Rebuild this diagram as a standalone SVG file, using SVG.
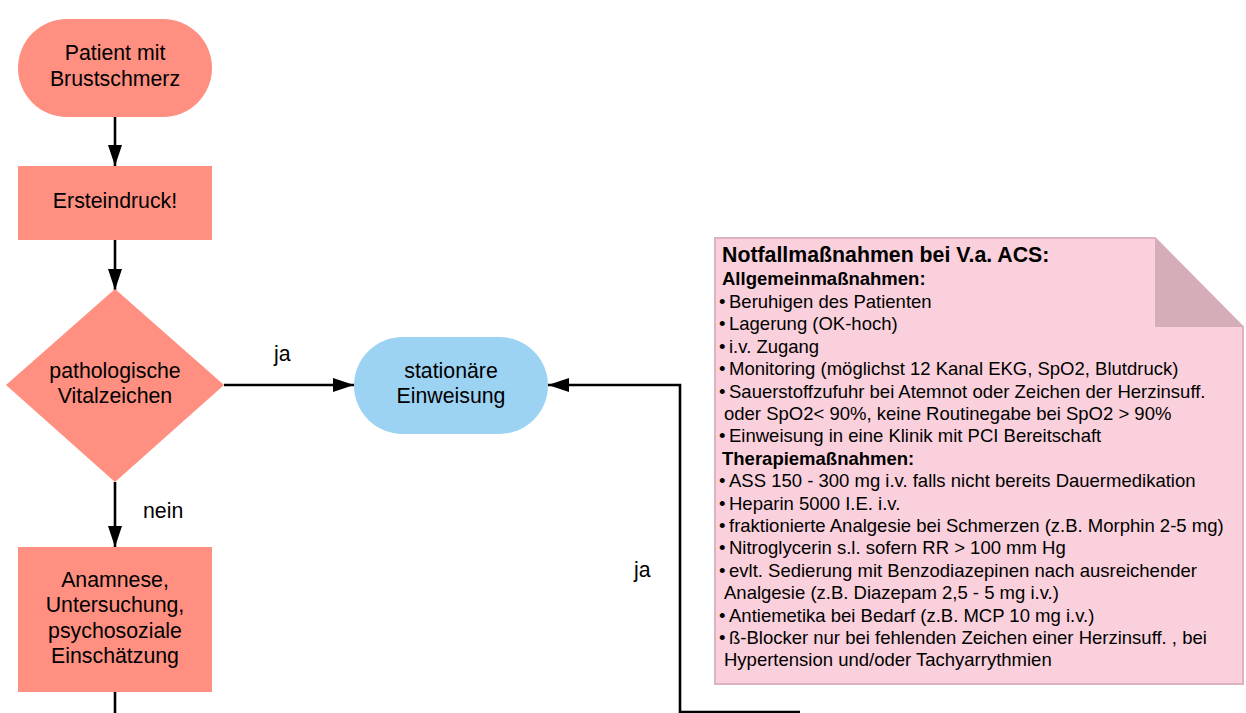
<svg xmlns="http://www.w3.org/2000/svg" width="1246" height="713" viewBox="0 0 1246 713">
<defs>
<marker id="arr" viewBox="0 0 21 14" refX="21" refY="7" markerWidth="21" markerHeight="14" markerUnits="userSpaceOnUse" orient="auto">
<path d="M0,0 L21,7 L0,14 z" fill="#000"/>
</marker>
<style>
.salmon{fill:#ff8f80}
.blue{fill:#9cd3f3}
.nt{font-family:"Liberation Sans",Arial,sans-serif;font-size:21.3px;fill:#000;text-anchor:middle}
.lbl{font-family:"Liberation Sans",Arial,sans-serif;font-size:21.3px;fill:#000}
.c{fill:none;stroke:#000;stroke-width:2.6}
.b{font-family:"Liberation Sans",Arial,sans-serif;font-size:18.5px;fill:#000}
.bb{font-weight:bold}
</style>
</defs>
<rect width="1246" height="713" fill="#fff"/>
<g id="connectors">
<line class="c" x1="115" y1="117" x2="115" y2="166" marker-end="url(#arr)"/>
<line class="c" x1="115" y1="240" x2="115" y2="290" marker-end="url(#arr)"/>
<line class="c" x1="224" y1="385" x2="354" y2="385" marker-end="url(#arr)"/>
<line class="c" x1="115" y1="482" x2="115" y2="547" marker-end="url(#arr)"/>
<line class="c" x1="115" y1="692" x2="115" y2="713"/>
<polyline class="c" points="800,712 680,712 680,385 548,385" marker-end="url(#arr)"/>
<text class="lbl" x="274" y="361">ja</text>
<text class="lbl" x="143" y="518">nein</text>
<text class="lbl" x="634" y="577">ja</text>
</g>
<g id="start">
<rect class="salmon" x="18" y="19" width="194" height="98" rx="49" ry="49"/>
<text class="nt" x="115" y="59.5">Patient mit</text>
<text class="nt" x="115" y="85.5">Brustschmerz</text>
</g>
<g id="ersteindruck">
<rect class="salmon" x="18" y="166" width="194" height="74"/>
<text class="nt" x="115" y="207.5">Ersteindruck!</text>
</g>
<g id="vital">
<polygon class="salmon" points="115,289 224,385 115,482 6,385"/>
<text class="nt" x="115" y="378">pathologische</text>
<text class="nt" x="115" y="403">Vitalzeichen</text>
</g>
<g id="einweisung">
<rect class="blue" x="354" y="337" width="194" height="97" rx="48.5" ry="48.5"/>
<text class="nt" x="451" y="378">stationäre</text>
<text class="nt" x="451" y="403">Einweisung</text>
</g>
<g id="anamnese">
<rect class="salmon" x="18" y="547" width="194" height="145"/>
<text class="nt" x="115" y="587">Anamnese,</text>
<text class="nt" x="115" y="612">Untersuchung,</text>
<text class="nt" x="115" y="638">psychosoziale</text>
<text class="nt" x="115" y="663">Einschätzung</text>
</g>
<g id="note">
<path d="M715,238 L1155,238 L1243,327 L1243,684 L715,684 Z" fill="#f9d0db" stroke="#ddb3c1" stroke-width="2"/>
<path d="M1155,238 L1155,327 L1243,327 Z" fill="#d4adb8"/>
<text class="b bb" x="722" y="262" style="font-size:21.3px">Notfallmaßnahmen bei V.a. ACS:</text>
<text class="b bb" x="722" y="285">Allgemeinmaßnahmen:</text>
<text class="b" x="719" y="308">•<tspan x="729">Beruhigen des Patienten</tspan></text>
<text class="b" x="719" y="330.4">•<tspan x="729">Lagerung (OK-hoch)</tspan></text>
<text class="b" x="719" y="352.8">•<tspan x="729">i.v. Zugang</tspan></text>
<text class="b" x="719" y="375.2">•<tspan x="729">Monitoring (möglichst 12 Kanal EKG, SpO2, Blutdruck)</tspan></text>
<text class="b" x="719" y="397.6">•<tspan x="729">Sauerstoffzufuhr bei Atemnot oder Zeichen der Herzinsuff.</tspan></text>
<text class="b" x="724" y="420">oder SpO2&lt; 90%, keine Routinegabe bei SpO2 &gt; 90%</text>
<text class="b" x="719" y="442.4">•<tspan x="729">Einweisung in eine Klinik mit PCI Bereitschaft</tspan></text>
<text class="b bb" x="722" y="464.8">Therapiemaßnahmen:</text>
<text class="b" x="719" y="487.2">•<tspan x="729">ASS 150 - 300 mg i.v. falls nicht bereits Dauermedikation</tspan></text>
<text class="b" x="719" y="509.6">•<tspan x="729">Heparin 5000 I.E. i.v.</tspan></text>
<text class="b" x="719" y="532">•<tspan x="729">fraktionierte Analgesie bei Schmerzen (z.B. Morphin 2-5 mg)</tspan></text>
<text class="b" x="719" y="554.4">•<tspan x="729">Nitroglycerin s.l. sofern RR &gt; 100 mm Hg</tspan></text>
<text class="b" x="719" y="576.8">•<tspan x="729">evlt. Sedierung mit Benzodiazepinen nach ausreichender</tspan></text>
<text class="b" x="724" y="599.2">Analgesie (z.B. Diazepam 2,5 - 5 mg i.v.)</text>
<text class="b" x="719" y="621.6">•<tspan x="729">Antiemetika bei Bedarf (z.B. MCP 10 mg i.v.)</tspan></text>
<text class="b" x="719" y="644">•<tspan x="729">ß-Blocker nur bei fehlenden Zeichen einer Herzinsuff. , bei</tspan></text>
<text class="b" x="724" y="666.4">Hypertension und/oder Tachyarrythmien</text>
</g>
</svg>
